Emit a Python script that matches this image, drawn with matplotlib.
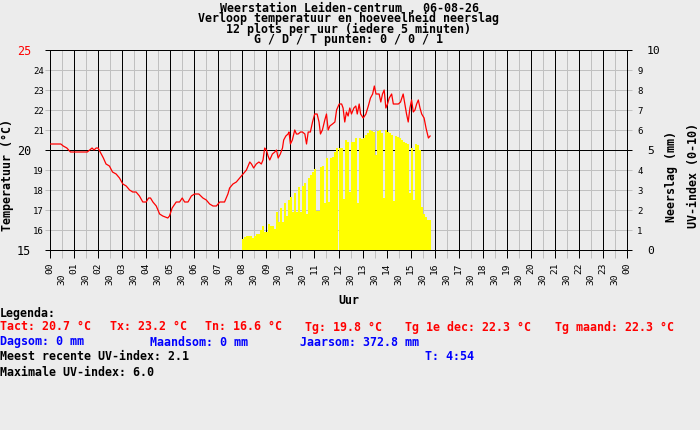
import matplotlib
matplotlib.use("Agg")
import matplotlib.pyplot as plt
import numpy as np

# ---------------- data ----------------
title_lines = [
    "Weerstation Leiden-centrum , 06-08-26",
    "Verloop temperatuur en hoeveelheid neerslag",
    "12 plots per uur (iedere 5 minuten)",
    "G / D / T punten: 0 / 0 / 1",
]

temp_hours = [
    0.00, 0.45, 0.55, 0.70, 0.85, 1.00, 1.30, 1.55, 1.65, 1.75, 1.83, 1.92, 2.00,
    2.13, 2.22, 2.33, 2.47, 2.60, 2.75, 2.89, 3.03, 3.17, 3.31, 3.44, 3.58, 3.72,
    3.86, 4.00, 4.10, 4.18, 4.28, 4.42, 4.56, 4.69, 4.90, 4.97, 5.08, 5.25, 5.39,
    5.50, 5.60, 5.74, 5.88, 6.01, 6.19, 6.36, 6.50, 6.64, 6.78, 6.92, 7.06, 7.26,
    7.40, 7.47, 7.61, 7.75, 7.89, 8.03, 8.17, 8.31, 8.38, 8.47, 8.58, 8.69, 8.79,
    8.86, 8.93, 9.00, 9.07, 9.14, 9.25, 9.35, 9.42, 9.49, 9.58, 9.67, 9.72, 9.81,
    9.90, 9.94, 10.00, 10.08, 10.18, 10.25, 10.32, 10.42, 10.50, 10.60, 10.67,
    10.74, 10.83, 10.92, 11.01, 11.11, 11.19, 11.25, 11.33, 11.43, 11.50, 11.57,
    11.64, 11.75, 11.85, 11.92, 12.03, 12.13, 12.19, 12.26, 12.33, 12.40, 12.47,
    12.54, 12.64, 12.72, 12.78, 12.86, 12.92, 13.03, 13.14, 13.24, 13.33, 13.42,
    13.49, 13.56, 13.63, 13.69, 13.76, 13.83, 13.90, 13.97, 14.04, 14.11, 14.21,
    14.28, 14.39, 14.49, 14.58, 14.69, 14.76, 14.83, 14.90, 14.97, 15.04, 15.11,
    15.18, 15.25, 15.32, 15.39, 15.46, 15.56, 15.64, 15.74, 15.81,
]
temp_values = [
    20.3, 20.3, 20.2, 20.1, 19.9, 19.9, 19.9, 19.9, 20.0, 20.1, 20.0, 20.1, 20.1,
    19.8, 19.6, 19.3, 19.2, 18.9, 18.8, 18.6, 18.3, 18.2, 18.0, 17.9, 17.9, 17.7,
    17.4, 17.4, 17.6, 17.6, 17.4, 17.2, 16.8, 16.7, 16.6, 16.7, 17.1, 17.4, 17.4,
    17.6, 17.4, 17.4, 17.7, 17.8, 17.8, 17.6, 17.5, 17.3, 17.2, 17.2, 17.4, 17.4,
    17.8, 18.1, 18.3, 18.4, 18.6, 18.8, 19.0, 19.4, 19.3, 19.1, 19.3, 19.4, 19.3,
    19.5, 20.1, 20.0, 19.7, 19.5, 19.8, 19.9, 20.0, 19.6, 19.8, 20.1, 20.5, 20.7,
    20.8, 20.9, 20.3, 20.5, 21.0, 20.8, 20.8, 20.9, 20.9, 20.8, 20.3,
    20.9, 20.9, 21.4, 21.8, 21.8, 21.4, 20.8, 21.0, 21.5, 21.8, 21.0,
    21.2, 21.3, 21.4, 22.0, 22.3, 22.3, 22.1, 21.4, 21.9, 21.7, 22.1,
    21.8, 22.1, 22.2, 21.8, 22.3, 21.8, 21.6, 21.8, 22.2, 22.6, 22.8,
    23.2, 22.8, 22.8, 22.8, 22.4, 22.8, 23.0, 22.1, 22.3, 22.6, 22.8,
    22.3, 22.3, 22.3, 22.4, 22.8, 22.3, 21.8, 21.4, 22.1, 22.5, 21.9,
    22.0, 22.3, 22.5, 22.1, 21.8, 21.6, 21.1, 20.6, 20.7,
]

uv_start_hour = 8.0
uv_interval_min = 5
uv_values = [
    0.53, 0.63, 0.70, 0.70, 0.70, 0.60, 0.70, 0.80, 0.80, 1.00,
    1.20, 0.92, 0.92, 1.30, 1.20, 1.20, 1.05, 1.92, 1.42, 2.12,
    1.40, 2.33, 1.70, 2.50, 2.67, 1.90, 2.83, 1.90, 3.13, 1.90,
    3.20, 3.33, 1.80, 3.58, 3.75, 3.92, 4.03, 1.97, 1.97, 4.13,
    4.20, 2.33, 4.58, 2.40, 4.58, 4.63, 4.90, 5.08, 5.08, 5.08,
    2.55, 5.50, 5.42, 2.90, 5.42, 5.42, 5.58, 2.33, 5.58, 5.55,
    5.62, 5.75, 5.83, 6.00, 5.95, 5.92, 4.75, 5.95, 6.00, 5.83,
    2.60, 6.00, 5.92, 5.83, 5.75, 2.45, 5.70, 5.67, 5.58, 5.50,
    5.42, 5.33, 5.30, 2.83, 5.08, 2.50, 5.30, 5.25, 5.00, 2.17,
    1.78, 1.67, 1.50, 1.50,
]
uv_hours = [uv_start_hour + i * uv_interval_min / 60 for i in range(len(uv_values))]

hour_labels = [f"{h:02d}" for h in range(24)] + ["00"]
half_labels = ["30"] * 24

t_act, t_max, t_min, t_avg, t_dec, t_month = 20.7, 23.2, 16.6, 19.8, 22.3, 22.3
rain_day, rain_month, rain_year = "0", "0", "372.8"
uv_recent, uv_max = 2.1, 6.0
t_min_time = "4:54"

# ---------------- style ----------------
W, H = 700, 430
BG = "#ececec"
GRAY = "#c0c0c0"
RED = "#ff0000"
BLUE = "#0000ff"
YELLOW = "#ffff00"
LW = 0.72
MONO = "DejaVu Sans Mono"
plt.rcParams["font.family"] = [MONO]

fig = plt.figure(figsize=(W / 100, H / 100), dpi=100, facecolor=BG)
L_px, R_px, T_px, B_px = 50, 627, 50, 250
rect = [L_px / W, 1 - B_px / H, (R_px - L_px) / W, (B_px - T_px) / H]

axT = fig.add_axes(rect)
axU = axT.twinx()
axT.set_zorder(2)
axU.set_zorder(1)
axT.patch.set_visible(False)
axU.patch.set_visible(False)

axT.set_xlim(0, 24)
axT.set_ylim(15, 25)
axU.set_ylim(0, 10)

# grid (drawn on lower axes so the bars cover it)
for h in np.arange(0.5, 24, 1.0):
    axU.axvline(h, color=GRAY, lw=LW, zorder=0.5)
for v in range(11):
    if v not in (0, 5, 10):
        axU.axhline(v, color=GRAY, lw=LW, zorder=0.5)
for h in range(25):
    axU.axvline(h, color="black", lw=LW, zorder=0.6)
for v in (0, 5, 10):
    axU.axhline(v, color="black", lw=LW, zorder=0.6)

# UV bars
axU.bar(uv_hours, uv_values, width=uv_interval_min / 60, align="edge",
        color=YELLOW, linewidth=0, antialiased=False, zorder=2)

# temperature
axT.plot(temp_hours, temp_values, color=RED, lw=0.9, zorder=3)

for ax in (axT, axU):
    for sp in ax.spines.values():
        sp.set_color("black")
        sp.set_linewidth(LW)

# x ticks
axT.set_xticks(range(25), hour_labels)
axT.set_xticks(np.arange(0.5, 24, 1.0), half_labels, minor=True)
axT.tick_params(axis="x", which="major", direction="out", length=5.8, width=LW,
                color="black", pad=2.9, labelsize=6.8, labelrotation=90)
axT.tick_params(axis="x", which="minor", direction="out", length=5.8, width=LW,
                color=GRAY, pad=10.8, labelsize=6.8, labelrotation=90)

# left y ticks
axT.set_yticks([15, 20, 25], ["15", "20", "25"])
minor_t = [v for v in range(16, 25) if v != 20]
axT.set_yticks(minor_t, [str(v) for v in minor_t], minor=True)
axT.tick_params(axis="y", which="major", direction="out", length=3.6, width=LW,
                color="black", pad=10.0, labelsize=8.5)
axT.tick_params(axis="y", which="minor", direction="out", length=3.6, width=LW,
                color=GRAY, pad=0.8, labelsize=6.5)
for lab in axT.get_yticklabels():
    if lab.get_text() == "25":
        lab.set_color(RED)

# right y ticks
axU.set_yticks([0, 5, 10], ["0", "5", "10"])
minor_u = [v for v in range(1, 10) if v != 5]
axU.set_yticks(minor_u, [str(v) for v in minor_u], minor=True)
axU.tick_params(axis="y", which="major", direction="out", length=3.6, width=LW,
                color="black", pad=10.8, labelsize=8.2)
axU.tick_params(axis="y", which="minor", direction="out", length=3.6, width=LW,
                color=GRAY, pad=3.6, labelsize=6.5)


def ftext(x, y, s, **kw):
    kw.setdefault("fontsize", 8.4)
    kw.setdefault("fontweight", "bold")
    kw.setdefault("va", "center")
    kw.setdefault("ha", "left")
    fig.text(x / W, 1 - y / H, s, **kw)


# titles (one multi-line text block)
ftext(349, 2, "\n".join(title_lines), ha="center", va="top",
      multialignment="center", linespacing=0.73)

# axis labels
ftext(8, 175, "Temperatuur (°C)", ha="center", rotation=90)
ftext(349, 301, "Uur", ha="center")
ftext(672, 177, "Neerslag (mm)", ha="center", rotation=90)
ftext(693, 176, "UV-index (0-10)", ha="center", rotation=90)

# legend
ftext(0, 313, "Legenda:")
ftext(0, 327, f"Tact: {t_act:.1f} °C", color=RED)
ftext(110, 327, f"Tx: {t_max:.1f} °C", color=RED)
ftext(205, 327, f"Tn: {t_min:.1f} °C", color=RED)
ftext(305, 327, f"Tg: {t_avg:.1f} °C", color=RED)
ftext(405, 327, f"Tg 1e dec: {t_dec:.1f} °C", color=RED)
ftext(555, 327, f"Tg maand: {t_month:.1f} °C", color=RED)
ftext(0, 342, f"Dagsom: {rain_day} mm", color=BLUE)
ftext(150, 342, f"Maandsom: {rain_month} mm", color=BLUE)
ftext(300, 342, f"Jaarsom: {rain_year} mm", color=BLUE)
ftext(0, 357, f"Meest recente UV-index: {uv_recent:.1f}")
ftext(425, 357, f"T: {t_min_time}", color=BLUE)
ftext(0, 372, f"Maximale UV-index: {uv_max:.1f}")

fig.savefig("out.png", dpi=100, facecolor=BG)
